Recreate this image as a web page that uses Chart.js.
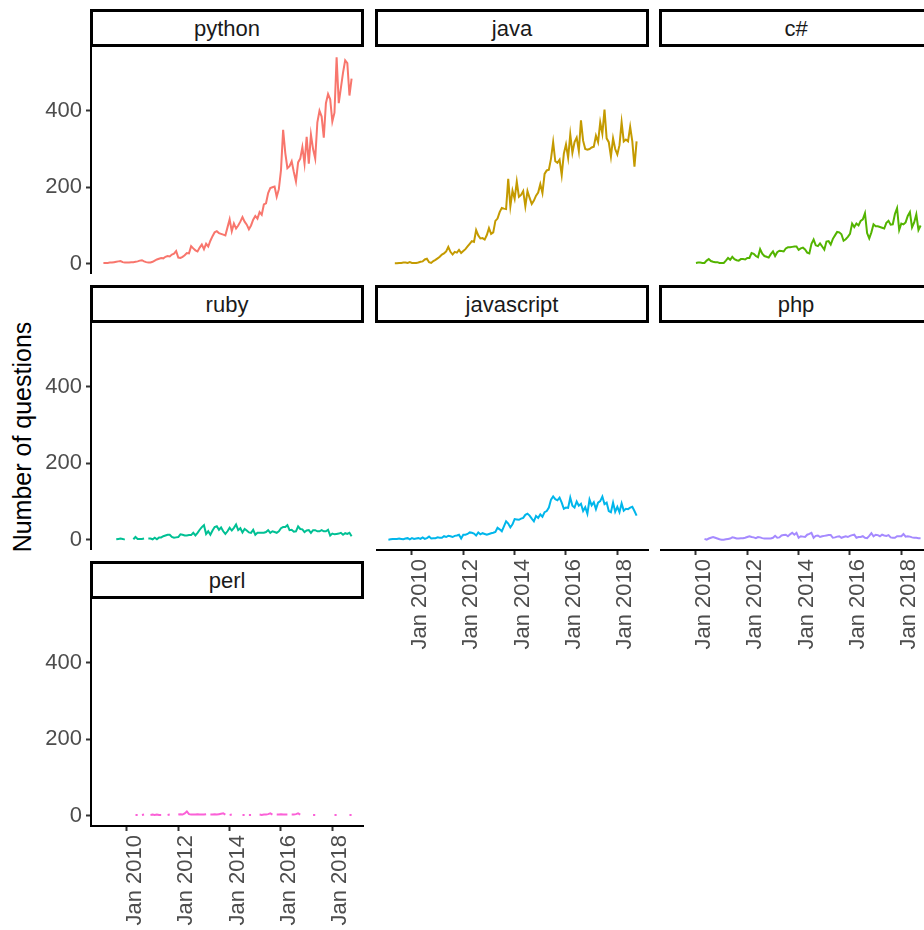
<!DOCTYPE html>
<html><head><meta charset="utf-8">
<script src="https://cdn.jsdelivr.net/npm/chart.js@4.4.0/dist/chart.umd.min.js"></script>
<style>
html,body{margin:0;padding:0;background:#fff;width:924px;height:930px;overflow:hidden;position:relative;font-family:'Liberation Sans',Arial,sans-serif}
.strip{position:absolute;box-sizing:border-box;border:3px solid #000;background:#fff;color:#1a1a1a;font-size:22px;display:flex;align-items:center;justify-content:center;padding-top:1px}
.panel{position:absolute}
.panel canvas{display:block}
#ytitle{position:absolute;left:22px;top:437px;transform:translate(-50%,-50%) rotate(-90deg);white-space:nowrap;font-size:25px;color:#000}
</style></head><body>
<div id="ytitle">Number of questions</div>
<script>
// ---- data ----
const startYear = 2009, startMonth = 2, nMonths = 117;
const tags = ['python','java','c#','ruby','javascript','php','perl'];
const colours = ['#F8766D','#C49A00','#53B400','#00C094','#00B6EB','#A58AFF','#FB61D7'];
const xTicks = [2010,2012,2014,2016,2018];
const yTicks = [0,200,400];

const python = [2,2,2,3,3,4,5,6,7,4, 3,3,3,4,4,5,6,8,9,6, 4,3,3,5,8,11,13,15,14,18,
 20,19,24,26,33,16,15,18,22,28, 27,46,40,35,32,42,50,38,52,45, 60,72,82,85,80,78,76,74,95,116,
 85,105,92,100,110,122,110,102,90,100, 115,125,118,135,128,155,158,185,198,200,
 202,175,195,245,350,290,250,255,268,240, 215,265,275,305,262,332,262,338,300,275,
 370,400,385,330,420,444,430,372,395,540, 420,460,500,532,525,440,484];
const java = [null,null,null,1,1,2,2,3,3,2, 4,2,2,2,3,5,6,11,13,4, 2,7,10,14,18,24,27,32,44,31,
 24,31,29,36,28,33,38,45,52,59, 57,88,74,66,67,63,75,93,78,82, 112,118,135,146,144,143,222,150,191,170,
 215,175,180,190,150,190,172,156,165,178, 186,208,185,235,244,246,275,318,268,264,
 272,232,288,312,277,338,290,318,330,295, 375,322,300,298,300,304,306,335,318,370,
 340,403,328,318,280,328,300,286,310,370, 320,325,320,358,320,254,320];
const csharp = [null,null,null,null,null,null,null,null,null,null, null,2,3,3,2,2,8,12,7,5,
 4,4,2,2,2,8,15,10,18,12, 9,8,12,12,11,15,15,28,26,20, 17,38,26,20,18,16,25,32,20,30,
 34,33,32,40,43,43,44,45,45,36, 40,42,37,29,27,52,63,48,46,53, 45,37,58,59,50,65,74,83,82,77,
 60,64,70,78,105,96,105,100,112,116, 132,80,66,82,103,98,98,96,94,92,
 107,112,102,103,130,145,88,105,103,108, 125,135,95,108,129,88,100];
const ruby = [null,null,null,null,null,null,1,2,3,2, 0,null,null,null,1,7,2,2,2,3,
 null,3,3,1,5,1,6,6,9,11, 13,13,7,5,6,7,14,13,11,11, 12,12,18,11,18,26,33,38,15,22,
 13,24,33,35,26,32,22,15,22,31, 24,31,40,25,30,19,28,24,19,18, 26,13,18,18,18,18,20,25,18,22,
 20,18,22,30,33,33,38,25,26,21, 22,35,28,27,20,24,25,18,25,25, 22,22,25,22,22,26,11,16,14,15,
 16,18,13,17,15,18,9];
const javascript = [0,1,2,2,2,3,2,1,3,4, 1,4,2,3,4,2,6,2,4,8, 3,4,4,6,5,5,9,7,10,9,
 7,10,11,13,3,13,13,15,19,18, 16,11,19,14,17,15,13,15,17,18, 20,31,27,22,35,48,42,32,40,54,
 53,52,55,57,65,68,63,55,48,62, 57,66,60,72,75,84,105,113,106,103, 110,97,81,84,83,110,89,84,100,89,
 94,75,85,68,105,90,98,80,97,101, 113,93,97,75,72,97,73,86,72,95, 76,81,80,84,86,75,63];
const php = [null,null,null,null,null,null,null,null,null,null,null,null,null,null,null,
 2,0,3,5,7, 5,3,1,0,0, 1,2,3,6,5, 3,3,4,4,5, 7,9,7,6,4, 7,6,4,3,3, 3,3,5,10,5,
 6,11,12,13,9, 14,18,13,18,5, 9,8,7,13,15, 18,5,10,11,7, 9,10,11,12,12, 5,6,8,9,5,
 7,9,7,10,12, 13,5,7,7,9, 5,4,10,17,9, 13,12,9,13,11, 10,12,6,5,5, 9,9,9,15,8, 9,8,6,5,5, 4,4];
const perl = [null,null,null,null,null,null,null,null,null,null,null,null,null,null,null,
 2,2,null,2,3, null,null,2,3,2, 3,2,2,null,null, 2,3,null,null,null, 3,4,3,6,11,
 4,3,3,3,4, 3,3,3,4,null, 3,3,4,3,4, 5,6,3,null,2, 3,null,null,null,null, 2,2,null,2,2,
 null,null,null,3,2, 3,3,4,6,3, null,3,3,4,3, 3,3,null,3,3, 4,6,3,null,null,
 null,null,null,2,2, null,null,null,null,null,null,null,null,2,2, null,null,null,null,null,2,2];

const seriesList = [python, java, csharp, ruby, javascript, php, perl];

// ---- layout ----
const colLeft = [91, 376, 660];
const rowTop = [47, 323, 599];
const panelW = 273, panelH = 227, stripH = 38, yAxisW = 91, xAxisH = 104;
const FONT = "'Liberation Sans', Arial, sans-serif";

const xs = [];
for (let i = 0; i < nMonths; i++) xs.push(startYear + (startMonth - 1 + i) / 12);
const xSpan = xs[xs.length - 1] - xs[0];
const xMin = xs[0] - 0.05 * xSpan, xMax = xs[xs.length - 1] + 0.05 * xSpan;
let yMaxData = 0;
seriesList.forEach(s => s.forEach(v => { if (v !== null && v > yMaxData) yMaxData = v; }));
const yMin = -0.05 * yMaxData, yMax = 1.05 * yMaxData;

tags.forEach((tag, k) => {
  const col = k % 3, row = Math.floor(k / 3);
  const hasY = col === 0;
  const hasX = (k === 6) || (k === 4) || (k === 5);
  // strip
  const st = document.createElement('div');
  st.className = 'strip';
  st.style.left = (colLeft[col] - 1) + 'px';
  st.style.top = (rowTop[row] - stripH) + 'px';
  st.style.width = (panelW + 1) + 'px';
  st.style.height = stripH + 'px';
  st.textContent = tag;
  document.body.appendChild(st);
  // canvas inside a fixed-size box
  const w = panelW + (hasY ? yAxisW : 0);
  const h = panelH + (hasX ? xAxisH : 0);
  const box = document.createElement('div');
  box.className = 'panel';
  box.style.left = (colLeft[col] - (hasY ? yAxisW : 0)) + 'px';
  box.style.top = rowTop[row] + 'px';
  box.style.width = w + 'px'; box.style.height = h + 'px';
  const cv = document.createElement('canvas');
  box.appendChild(cv);
  document.body.appendChild(box);
  const series = seriesList[k];
  new Chart(cv.getContext('2d'), {
    type: 'line',
    data: { datasets: [{
      data: series.map((v, i) => ({ x: xs[i], y: v })),
      borderColor: colours[k], borderWidth: 2, pointRadius: 0, fill: false,
      tension: 0, spanGaps: false
    }]},
    options: {
      responsive: true, maintainAspectRatio: false, animation: false, events: [],
      devicePixelRatio: 1,
      plugins: { legend: { display: false }, tooltip: { enabled: false } },
      layout: { padding: 0 },
      scales: {
        x: {
          type: 'linear', min: xMin, max: xMax, display: hasX, position: 'bottom',
          afterBuildTicks: s => { s.ticks = xTicks.map(v => ({ value: v })); },
          afterFit: s => { s.height = hasX ? xAxisH : 0; s.paddingLeft = 0; s.paddingRight = 0; },
          ticks: { autoSkip: false, maxRotation: 90, minRotation: 90, padding: 4, labelOffset: 8,
            color: '#4D4D4D', font: { family: FONT, size: 22 }, callback: v => 'Jan ' + v },
          grid: { display: true, drawOnChartArea: false, drawTicks: true, tickLength: 5,
            tickWidth: 2, tickColor: '#333333' },
          border: { display: true, color: '#000', width: 2 }
        },
        y: {
          type: 'linear', min: yMin, max: yMax, display: hasY, position: 'left',
          afterBuildTicks: s => { s.ticks = yTicks.map(v => ({ value: v })); },
          afterFit: s => { s.width = hasY ? yAxisW : 0; s.paddingTop = 0; s.paddingBottom = 0; },
          ticks: { padding: 4, color: '#4D4D4D', font: { family: FONT, size: 22 },
            callback: v => String(v) },
          grid: { display: true, drawOnChartArea: false, drawTicks: true, tickLength: 5,
            tickWidth: 2, tickColor: '#333333' },
          border: { display: true, color: '#000', width: 2 }
        }
      }
    }
  });
});
</script>
</body></html>
